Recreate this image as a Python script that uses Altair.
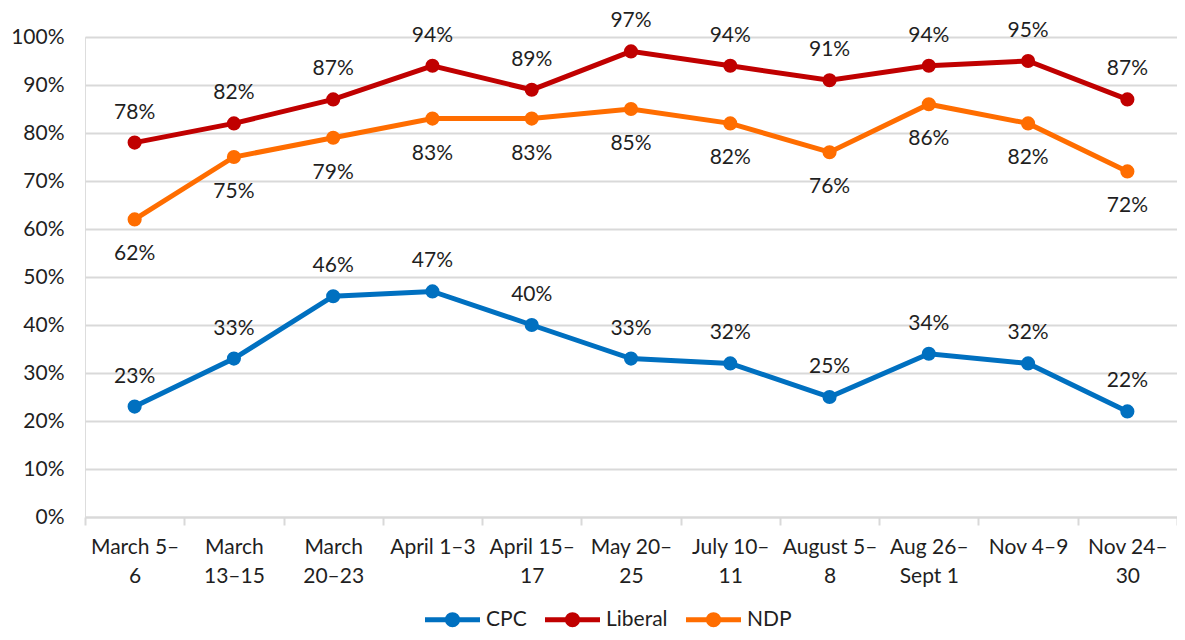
import altair as alt
import pandas as pd

periods = ["March 5–|6", "March|13–15", "March|20–23", "April 1–3", "April 15–|17",
           "May 20–|25", "July 10–|11", "August 5–|8", "Aug 26–|Sept 1", "Nov 4–9", "Nov 24–|30"]
series_names = ["CPC", "Liberal", "NDP"]
cpc = [23, 33, 46, 47, 40, 33, 32, 25, 34, 32, 22]
liberal = [78, 82, 87, 94, 89, 97, 94, 91, 94, 95, 87]
ndp = [62, 75, 79, 83, 83, 85, 82, 76, 86, 82, 72]
colors = ["#0070C0", "#C00000", "#FF6D00"]

rows = []
for name, vals in zip(series_names, [cpc, liberal, ndp]):
    for i, (p, v) in enumerate(zip(periods, vals)):
        rows.append({"period": p, "party": name, "value": v, "label": f"{v}%"})
df = pd.DataFrame(rows)

FONT = "Lato"
TXT = "#1f1f1f"

x = alt.X("period:N", sort=periods, title=None,
          scale=alt.Scale(type="band", paddingInner=0, paddingOuter=0),
          axis=alt.Axis(labelExpr="split(datum.label, '|')", labelAngle=0,
                        labelFontSize=21, labelFont=FONT, labelColor=TXT,
                        labelLineHeight=29, labelPadding=11,
                        tickBand="extent", tickSize=8, tickColor="#D9D9D9", tickWidth=2,
                        domainColor="#D9D9D9", domainWidth=2, grid=False))
y = alt.Y("value:Q", title=None,
          scale=alt.Scale(domain=[0, 100], nice=False),
          axis=alt.Axis(values=list(range(0, 101, 10)), labelExpr="datum.value + '%'",
                        labelFontSize=21, labelFont=FONT, labelColor=TXT, labelPadding=21,
                        domain=False, ticks=False, gridColor="#D9D9D9", gridWidth=2))

leg_path = "M-2.5,0L2.5,0M0.46,0A0.46,0.46,0,1,1,-0.46,0A0.46,0.46,0,1,1,0.46,0Z"
color = alt.Color("party:N", scale=alt.Scale(domain=series_names, range=colors),
                  legend=alt.Legend(title=None, orient="none", direction="horizontal",
                                    legendX=354, legendY=569,
                                    symbolType=leg_path, symbolSize=484,
                                    symbolStrokeWidth=5, labelFontSize=21,
                                    labelFont=FONT, labelColor=TXT, columnPadding=8,
                                    labelOffset=20))

base = alt.Chart(df)
lines = base.mark_line(strokeWidth=5).encode(x=x, y=y, color=color)
points = base.mark_point(filled=True, size=200, opacity=1).encode(
    x=x, y=y, color=alt.Color("party:N", scale=alt.Scale(domain=series_names, range=colors)),
    fill=alt.Fill("party:N", scale=alt.Scale(domain=series_names, range=colors), legend=None))
above = base.transform_filter("datum.party != 'NDP'").mark_text(
    dy=-30, fontSize=21, font=FONT, color=TXT).encode(x=x, y=y, text="label:N")
below = base.transform_filter("datum.party == 'NDP'").mark_text(
    dy=35, fontSize=21, font=FONT, color=TXT).encode(x=x, y=y, text="label:N")

chart = alt.layer(lines, points, above, below).properties(
    width=1092, height=480,
    autosize=alt.AutoSizeParams(type="none"),
    padding={"left": 77, "top": 29, "right": 0, "bottom": 115},
).configure_view(stroke=None).configure(background="white")

chart.save("out.html", embed_options={"renderer": "svg", "actions": False})
